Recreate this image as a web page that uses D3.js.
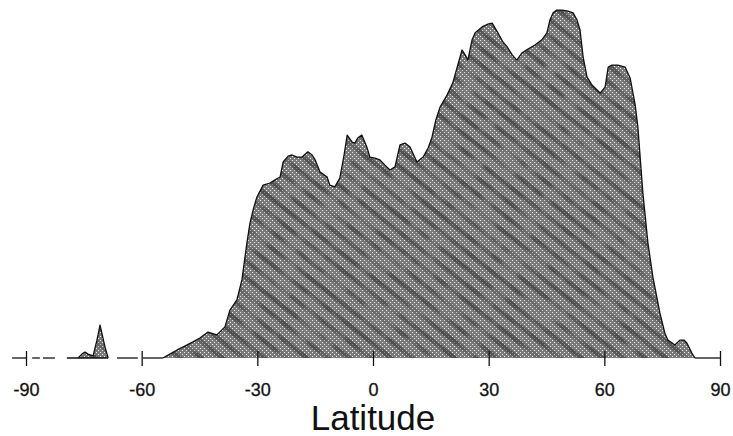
<!DOCTYPE html>
<html>
<head>
<meta charset="utf-8">
<script src="https://cdn.jsdelivr.net/npm/d3@7"></script>
<style>
  body { margin: 0; background: #fff; }
  svg text { font-family: "Liberation Sans", Arial, Helvetica, sans-serif; fill: #111; }
</style>
</head>
<body>
<svg id="chart" width="733" height="436"></svg>
<script>
// Zonal profile: relative amount by latitude (degrees)
const latitude = [
  -54.5,-52.7,-50.8,-48.8,-46.7,-44.9,-42.8,-40.5,-38.4,-37.1,
  -35.3,-34.0,-32.7,-31.9,-30.9,-30.1,-28.5,-26.7,-25.4,-24.1,
  -23.3,-22.0,-21.0,-19.7,-18.4,-16.9,-15.8,-15.0,-13.7,-11.9,
  -11.2,-9.9,-8.6,-7.5,-6.7,-5.4,-4.7,-3.9,-2.9,-1.6,
  -0.8,0.5,1.8,3.1,4.4,5.7,7.0,8.3,9.6,11.4,
  13.0,14.3,15.3,16.3,17.4,19.2,20.7,22.0,23.1,23.9,
  24.6,25.7,26.5,28.3,29.8,30.9,32.4,33.7,34.8,36.1,
  37.3,38.6,40.2,42.0,43.8,45.1,45.9,46.7,47.7,49.0,
  50.6,51.9,52.9,53.7,54.5,55.5,56.8,58.9,60.2,61.0,
  62.0,63.5,65.4,66.7,68.0,68.7,70.0,71.3,72.6,74.4,
  75.7,76.5,78.3,79.6,80.7,81.4,82.7,83.5
];
const amount = [
  0,1.1,2.3,3.4,4.6,5.7,7.4,6.6,8.9,13.7,
  16.6,22.3,32.9,38.6,43.1,46.0,49.4,50.0,50.9,51.7,
  56.0,57.7,58.0,57.4,57.4,58.9,58.0,56.6,53.1,51.7,
  49.4,48.9,51.4,58.0,63.7,61.7,61.4,62.9,63.7,60.3,
  57.4,57.1,56.6,55.1,53.7,54.6,60.9,61.4,60.3,56.0,
  57.4,60.0,63.1,68.0,71.7,75.1,78.6,83.7,88.0,86.6,
  85.1,90.9,92.9,94.6,95.4,95.7,92.9,90.3,88.9,86.6,
  85.1,87.1,88.3,89.4,90.9,92.9,96.6,98.6,99.4,99.4,
  99.1,98.6,96.6,93.7,86.0,80.3,78.0,75.7,77.4,83.1,
  83.7,83.7,83.1,80.0,72.3,66.0,47.1,32.9,23.1,12.9,
  7.1,5.1,3.7,5.1,5.1,4.3,1.4,0
];
// Small isolated southern feature
const southLatitude = [-76.5,-75.5,-74.7,-73.9,-72.6,-71.6,-70.8,-69.5,-68.7];
const southAmount   = [0,1.1,1.7,1.1,0.6,5.1,9.4,3.1,0];

// Stretches of latitude where the zero line is drawn
const baselineSpans = [[-93.6,-90],[-88.4,-86.4],[-85.6,-82.5],[-79.4,-68.7],
                       [-66.4,-61.0],[-59.7,-54.5],[83.5,90]];
const tickValues = [-90,-60,-30,0,30,60,90];
const axisTitle = "Latitude";

const svg = d3.select("#chart");
const x = d3.scaleLinear().domain([-90, 90]).range([26, 720]);
const y = d3.scaleLinear().domain([0, 100]).range([358, 8]);

const defs = svg.append("defs");

// fine halftone screen
const dots = defs.append("pattern")
  .attr("id", "halftone").attr("patternUnits", "userSpaceOnUse")
  .attr("width", 4).attr("height", 4);
dots.append("rect").attr("width", 4).attr("height", 4).attr("fill", "#7a7a7a");
dots.append("rect").attr("x", 0).attr("y", 0).attr("width", 1).attr("height", 1).attr("fill", "#ececec");
dots.append("rect").attr("x", 2).attr("y", 2).attr("width", 1).attr("height", 1).attr("fill", "#ececec");

// diagonal ridge streaks
const streak = defs.append("pattern")
  .attr("id", "streaks").attr("patternUnits", "userSpaceOnUse")
  .attr("width", 60).attr("height", 13)
  .attr("patternTransform", "rotate(38)");
streak.append("rect").attr("y", 0).attr("width", 60).attr("height", 4.5).attr("fill", "#202020");

// break the streaks up irregularly
const f = defs.append("filter").attr("id", "rough")
  .attr("x", 0).attr("y", 0).attr("width", 1).attr("height", 1);
f.append("feTurbulence").attr("type", "fractalNoise").attr("baseFrequency", "0.05 0.04")
  .attr("numOctaves", 2).attr("seed", 7).attr("result", "noise");
f.append("feColorMatrix").attr("in", "noise").attr("type", "matrix")
  .attr("values", "0 0 0 0 0  0 0 0 0 0  0 0 0 0 0  2.2 0 0 0 -0.35").attr("result", "mask");
f.append("feComposite").attr("in", "SourceGraphic").attr("in2", "mask").attr("operator", "in");

const main = latitude.map((d, i) => [d, amount[i]]);
const south = southLatitude.map((d, i) => [d, southAmount[i]]);

const area = d3.area().x(d => x(d[0])).y0(y(0)).y1(d => y(d[1]));
const line = d3.line().x(d => x(d[0])).y(d => y(d[1]));

[main, south].forEach(series => {
  svg.append("path").attr("d", area(series)).attr("fill", "url(#halftone)");
  svg.append("path").attr("d", area(series)).attr("fill", "url(#streaks)")
    .attr("fill-opacity", 0.5).attr("filter", "url(#rough)");
  svg.append("path").attr("d", line(series)).attr("fill", "none")
    .attr("stroke", "#111").attr("stroke-width", 1.3).attr("stroke-linejoin", "round");
});

// zero line
svg.append("g").selectAll("line").data(baselineSpans).join("line")
  .attr("x1", d => x(d[0])).attr("x2", d => x(d[1]))
  .attr("y1", y(0)).attr("y2", y(0))
  .attr("stroke", "#111").attr("stroke-width", 1.3);

// latitude axis: ticks cross the zero line
const axis = d3.axisBottom(x).tickValues(tickValues)
  .tickSize(15).tickPadding(17).tickFormat(d => String(d));
const g = svg.append("g").attr("transform", `translate(0,${y(0) - 7})`).call(axis);
g.select(".domain").remove();
g.selectAll(".tick line").attr("stroke", "#111").attr("stroke-width", 1.3);
g.selectAll(".tick text").attr("font-size", 18).attr("fill", "#111")
  .attr("stroke", "#111").attr("stroke-width", 0.3)
  .style("font-family", '"Liberation Sans", Arial, sans-serif');

svg.append("text").attr("x", x(0)).attr("y", 430).attr("text-anchor", "middle")
  .attr("font-size", 35).text(axisTitle);
</script>
</body>
</html>
